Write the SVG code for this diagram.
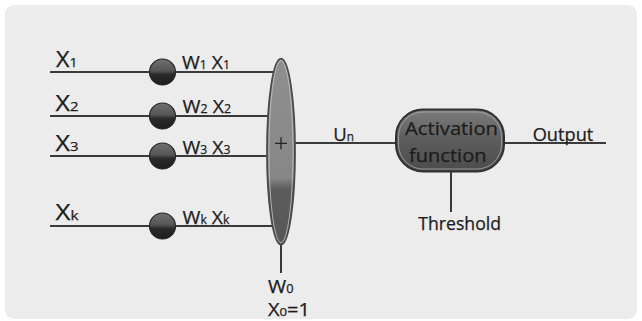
<svg xmlns="http://www.w3.org/2000/svg" width="642" height="321" viewBox="0 0 642 321">
<style>
.t{font-family:"Open Sans","DejaVu Sans",sans-serif;fill:#1c1c1c;stroke:#1c1c1c;stroke-width:0.25;}
.c{fill:none;stroke:#3a3a3a;stroke-width:2;}
.dot{fill:url(#gDot);stroke:#262626;stroke-width:1.2;}
</style>
<defs>
<linearGradient id="gDot" x1="0" y1="0" x2="0" y2="1">
<stop offset="0" stop-color="#707070"/>
<stop offset="0.45" stop-color="#555"/>
<stop offset="0.6" stop-color="#2a2a2a"/>
<stop offset="1" stop-color="#1c1c1c"/>
</linearGradient>
<linearGradient id="gSum" x1="0" y1="0" x2="0" y2="1">
<stop offset="0" stop-color="#8f8f8f"/>
<stop offset="0.64" stop-color="#878787"/>
<stop offset="0.7" stop-color="#5c5c5c"/>
<stop offset="1" stop-color="#575757"/>
</linearGradient>
<linearGradient id="gAct" x1="0" y1="0" x2="0" y2="1">
<stop offset="0" stop-color="#7c7c7c"/>
<stop offset="0.5" stop-color="#5c5c5c"/>
<stop offset="1" stop-color="#4c4c4c"/>
</linearGradient>
</defs>
<rect x="0" y="0" width="642" height="321" fill="#ffffff"/>
<rect x="5" y="5" width="632" height="314" rx="9" fill="#ececec"/>

<g id="connectors">
<path class="c" d="M50 72 H281"/>
<path class="c" d="M50 116 H281"/>
<path class="c" d="M50 156 H281"/>
<path class="c" d="M50 226 H281"/>
<path class="c" d="M281 143 H400"/>
<path class="c" d="M500 143 H606"/>
<path class="c" d="M451 168 V212"/>
<path class="c" d="M281 240 V273"/>
</g>

<g id="input1">
<text class="t" x="56" y="67" font-size="21" textLength="21.5" lengthAdjust="spacingAndGlyphs">X<tspan font-size="12.5">1</tspan></text>
</g>
<g id="input2">
<text class="t" x="55.5" y="111" font-size="21" textLength="23" lengthAdjust="spacingAndGlyphs">X<tspan font-size="12.5">2</tspan></text>
</g>
<g id="input3">
<text class="t" x="55.5" y="151" font-size="21" textLength="23" lengthAdjust="spacingAndGlyphs">X<tspan font-size="12.5">3</tspan></text>
</g>
<g id="inputk">
<text class="t" x="55.5" y="220" font-size="21" textLength="23" lengthAdjust="spacingAndGlyphs">X<tspan font-size="12.5">k</tspan></text>
</g>

<g id="weight1">
<circle class="dot" cx="162.5" cy="72" r="13"/>
<text class="t" x="182" y="68.5" font-size="19" textLength="48" lengthAdjust="spacingAndGlyphs">W<tspan font-size="12">1</tspan> X<tspan font-size="12">1</tspan></text>
</g>
<g id="weight2">
<circle class="dot" cx="162.5" cy="116" r="13"/>
<text class="t" x="182.5" y="113" font-size="19" textLength="48.5" lengthAdjust="spacingAndGlyphs">W<tspan font-size="12">2</tspan> X<tspan font-size="12">2</tspan></text>
</g>
<g id="weight3">
<circle class="dot" cx="162.5" cy="156" r="13"/>
<text class="t" x="182.5" y="153.5" font-size="19" textLength="48" lengthAdjust="spacingAndGlyphs">W<tspan font-size="12">3</tspan> X<tspan font-size="12">3</tspan></text>
</g>
<g id="weightk">
<circle class="dot" cx="162.5" cy="226" r="13"/>
<text class="t" x="182.5" y="223.5" font-size="19" textLength="47" lengthAdjust="spacingAndGlyphs">W<tspan font-size="12">k</tspan> X<tspan font-size="12">k</tspan></text>
</g>

<g id="summation">
<ellipse cx="281" cy="151.7" rx="14" ry="93" fill="url(#gSum)" stroke="#4a4a4a" stroke-width="1.8"/>
<ellipse cx="281" cy="151.7" rx="12" ry="91" fill="none" stroke="#c4c4c4" stroke-width="0.8"/>
<path d="M275 143.3 H287 M281 137.3 V149.3" stroke="#222" stroke-width="1.3" fill="none"/>
</g>

<g id="bias">
<text class="t" x="268" y="293" font-size="18.5" textLength="25.5" lengthAdjust="spacingAndGlyphs">W<tspan font-size="12">0</tspan></text>
<text class="t" x="268" y="315.5" font-size="17.5" textLength="42" lengthAdjust="spacingAndGlyphs">X<tspan font-size="11.5">0</tspan>=1</text>
</g>

<g id="net">
<text class="t" x="333.3" y="140.7" font-size="19" textLength="20.7" lengthAdjust="spacingAndGlyphs">U<tspan font-size="12">n</tspan></text>
</g>

<g id="activation">
<rect x="396" y="109.5" width="108" height="62" rx="27" fill="url(#gAct)" stroke="#303030" stroke-width="2"/>
<rect x="398.5" y="112" width="103" height="57" rx="24.5" fill="none" stroke="#a8a8a8" stroke-width="0.8"/>
<text class="t" x="405" y="135" font-size="18.5" textLength="93" lengthAdjust="spacingAndGlyphs">Activation</text>
<text class="t" x="409" y="161.7" font-size="18.5" textLength="77.5" lengthAdjust="spacingAndGlyphs">function</text>
</g>

<g id="threshold">
<text class="t" x="418.3" y="230" font-size="18.5" textLength="82.7" lengthAdjust="spacingAndGlyphs">Threshold</text>
</g>

<g id="output">
<text class="t" x="532.7" y="140.7" font-size="17.5" textLength="60.6" lengthAdjust="spacingAndGlyphs">Output</text>
</g>
</svg>
